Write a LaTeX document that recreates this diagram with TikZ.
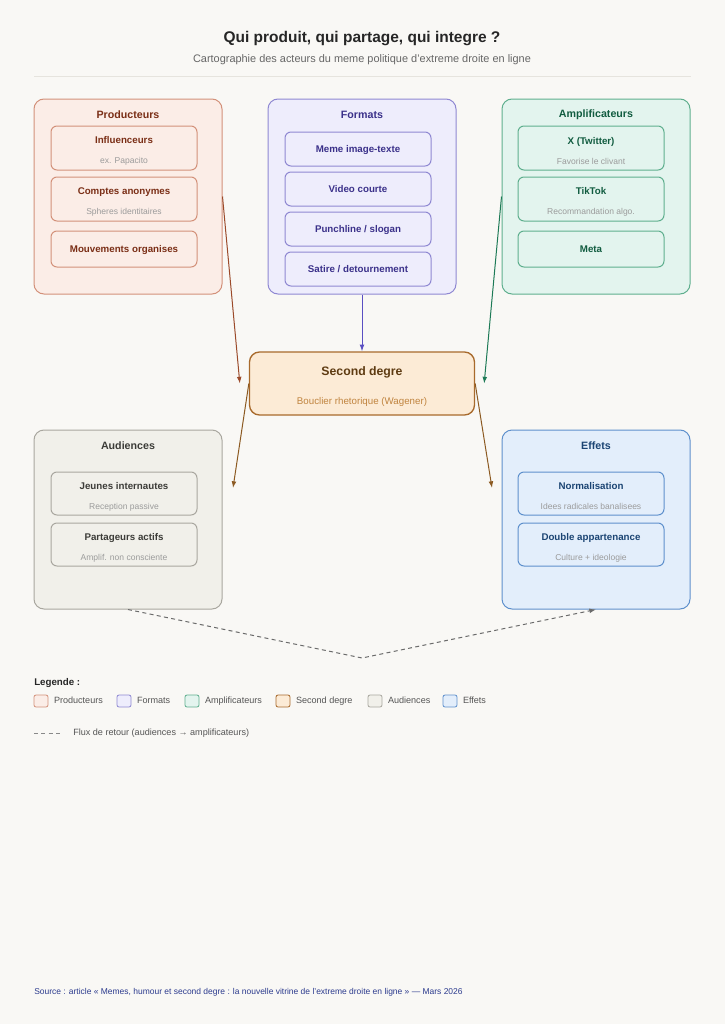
\documentclass[tikz,border=0pt]{standalone}
\usepackage{fontspec}
\setmainfont{Liberation Sans}
\usetikzlibrary{positioning, calc, arrows.meta}
\definecolor{bg}{HTML}{F9F8F5}
\definecolor{prodfill}{HTML}{FBEDE7}
\definecolor{proddraw}{HTML}{D3917A}
\definecolor{prodtext}{HTML}{7A2E16}
\definecolor{fmtfill}{HTML}{EEEDFC}
\definecolor{fmtdraw}{HTML}{8F88D2}
\definecolor{fmttext}{HTML}{3B318A}
\definecolor{amplfill}{HTML}{E3F4EE}
\definecolor{ampldraw}{HTML}{5FAF8E}
\definecolor{ampltext}{HTML}{115C40}
\definecolor{secfill}{HTML}{FCEBD6}
\definecolor{secdraw}{HTML}{A86A2C}
\definecolor{sectext}{HTML}{5E3B12}
\definecolor{secsub}{HTML}{C0843F}
\definecolor{audfill}{HTML}{F1F0EA}
\definecolor{auddraw}{HTML}{A9A79F}
\definecolor{audtext}{HTML}{3C3C38}
\definecolor{efffill}{HTML}{E3EEFB}
\definecolor{effdraw}{HTML}{5E90CC}
\definecolor{efftext}{HTML}{1B4473}
\definecolor{subgray}{HTML}{9B9B9B}
\definecolor{legray}{HTML}{555555}
\definecolor{rulegray}{HTML}{E6E4DE}
\definecolor{flux}{HTML}{6B6B6B}
\definecolor{prodarrow}{HTML}{9B4A2A}
\definecolor{fmtarrow}{HTML}{5A4FC2}
\definecolor{amplarrow}{HTML}{1D7A56}
\definecolor{secarrow}{HTML}{8C5A22}
\definecolor{sourceblue}{HTML}{2C3B8E}
\newcommand{\itemtwo}[2]{\rule{0pt}{9.8pt}#1\\[6.2pt]{\fontsize{6.4}{8}\selectfont\mdseries\color{subgray}#2}}
\newcommand{\itemone}[1]{\rule[-1.5pt]{0pt}{8pt}#1}

\begin{document}
\begin{tikzpicture}[x=0.75pt, y=-0.75pt,
    group/.style={draw, rectangle, rounded corners=7.5pt, minimum width=141pt, line width=0.75pt},
    item/.style={draw, rectangle, rounded corners=4.5pt, minimum width=109.5pt, line width=0.75pt,
      align=center, inner sep=0pt, font=\fontsize{7.3}{8.8}\selectfont\bfseries},
    head/.style={inner sep=0pt, font=\fontsize{8}{10}\selectfont\bfseries},
    flow/.style={-{Latex[length=5pt, width=3.6pt]}, line width=0.75pt},
    swatch/.style={draw, rectangle, rounded corners=1.5pt, minimum width=10.5pt, minimum height=9pt,
      inner sep=0pt, line width=0.6pt},
    legtext/.style={inner sep=0pt, text height=4.9pt, text depth=1.4pt, text=legray,
      font=\fontsize{6.8}{8}\selectfont}]
      \useasboundingbox (0,0) rectangle (725,1024);
      \fill[bg] (0,0) rectangle (725,1024);

      % titre
      \node[font=\fontsize{11.6}{14}\selectfont\bfseries, text=black!85]
        (title) at (362,39) {Qui produit, qui partage, qui integre ?};
      \node[font=\fontsize{8.2}{10}\selectfont, text=black!60]
        (subtitle) at (362,60) {Cartographie des acteurs du meme politique d'extreme droite en ligne};
      \draw[rulegray, line width=0.75pt] (34,77) -- (691,77);

      % producteurs
      \node[group, draw=proddraw, fill=prodfill, minimum height=146.25pt]
        (prod) at (128,196.5) {};
      \node[head, text=prodtext] (prodhead) at ($(prod.north)+(0,16)$) {Producteurs};
      \node[item, draw=proddraw, fill=prodfill, text=prodtext, minimum height=33pt]
        (infl) at (124,148) {\itemtwo{Influenceurs}{ex. Papacito}};
      \node[item, draw=proddraw, fill=prodfill, text=prodtext, minimum height=33pt, below=4.5pt of infl]
        (anon) {\itemtwo{Comptes anonymes}{Spheres identitaires}};
      \node[item, draw=proddraw, fill=prodfill, text=prodtext, minimum height=27pt, below=6.75pt of anon]
        (mouv) {\itemone{Mouvements organises}};

      % formats
      \node[group, draw=fmtdraw, fill=fmtfill, minimum height=146.25pt]
        (fmt) at (362,196.5) {};
      \node[head, text=fmttext] (fmthead) at ($(fmt.north)+(0,16)$) {Formats};
      \node[item, draw=fmtdraw, fill=fmtfill, text=fmttext, minimum height=25.5pt]
        (img) at (358,149) {\itemone{Meme image-texte}};
      \node[item, draw=fmtdraw, fill=fmtfill, text=fmttext, minimum height=25.5pt, below=3.75pt of img]
        (video) {\itemone{Video courte}};
      \node[item, draw=fmtdraw, fill=fmtfill, text=fmttext, minimum height=25.5pt, below=3.75pt of video]
        (punch) {\itemone{Punchline / slogan}};
      \node[item, draw=fmtdraw, fill=fmtfill, text=fmttext, minimum height=25.5pt, below=3.75pt of punch]
        (satire) {\itemone{Satire / detournement}};

      % amplificateurs
      \node[group, draw=ampldraw, fill=amplfill, minimum height=146.25pt]
        (ampl) at (596,196.5) {};
      \node[head, text=ampltext] (amplhead) at ($(ampl.north)+(0,16)$) {Amplificateurs};
      \node[item, draw=ampldraw, fill=amplfill, text=ampltext, minimum height=33pt]
        (twitter) at (591,148) {\itemtwo{X (Twitter)}{Favorise le clivant}};
      \node[item, draw=ampldraw, fill=amplfill, text=ampltext, minimum height=33pt, below=4.5pt of twitter]
        (tiktok) {\itemtwo{TikTok}{Recommandation algo.}};
      \node[item, draw=ampldraw, fill=amplfill, text=ampltext, minimum height=27pt, below=6.75pt of tiktok]
        (meta) {\itemone{Meta}};

      % second degre
      \node[draw=secdraw, fill=secfill, rounded corners=7.5pt, line width=1pt,
        minimum width=168.75pt, minimum height=47.25pt, align=center, text=sectext,
        font=\fontsize{9.2}{11}\selectfont\bfseries]
        (sec) at (362,383.5) {\rule{0pt}{11.2pt}Second degre\\[11pt]{\fontsize{7.3}{9}\selectfont\mdseries\color{secsub}Bouclier rhetorique (Wagener)}};

      % audiences
      \node[group, draw=auddraw, fill=audfill, minimum height=134.25pt]
        (aud) at (128,519.5) {};
      \node[head, text=audtext] (audhead) at ($(aud.north)+(0,16)$) {Audiences};
      \node[item, draw=auddraw, fill=audfill, text=audtext, minimum height=32.25pt]
        (jeunes) at (124,493.5) {\itemtwo{Jeunes internautes}{Reception passive}};
      \node[item, draw=auddraw, fill=audfill, text=audtext, minimum height=32.25pt, below=5.25pt of jeunes]
        (partage) {\itemtwo{Partageurs actifs}{Amplif. non consciente}};

      % effets
      \node[group, draw=effdraw, fill=efffill, minimum height=134.25pt]
        (eff) at (596,519.5) {};
      \node[head, text=efftext] (effhead) at ($(eff.north)+(0,16)$) {Effets};
      \node[item, draw=effdraw, fill=efffill, text=efftext, minimum height=32.25pt]
        (norm) at (591,493.5) {\itemtwo{Normalisation}{Idees radicales banalisees}};
      \node[item, draw=effdraw, fill=efffill, text=efftext, minimum height=32.25pt, below=5.25pt of norm]
        (double) {\itemtwo{Double appartenance}{Culture + ideologie}};

      % fleches
      \coordinate (audin) at (233,488);
      \coordinate (effin) at (492,488);
      \coordinate (retour) at (362,658);
      \draw[flow, prodarrow] (prod.east) -- ([xshift=-6.75pt]sec.west);
      \draw[flow, fmtarrow] (fmt.south) -- (sec.north);
      \draw[flow, amplarrow] (ampl.west) -- ([xshift=6.75pt]sec.east);
      \draw[flow, secarrow] (sec.west) -- (audin);
      \draw[flow, secarrow] (sec.east) -- (effin);
      \draw[flow, flux, dash pattern=on 3pt off 2.5pt] (aud.south) -- (retour) -- (eff.south);

      % legende
      \node[anchor=west, inner sep=0pt, text=black!85, font=\fontsize{7.3}{9}\selectfont\bfseries]
        (legtitle) at (34,682.5) {Legende :};
      \node[swatch, draw=proddraw, fill=prodfill] (swprod) at (41,701) {};
      \node[legtext, right=4pt of swprod] {Producteurs};
      \node[swatch, draw=fmtdraw, fill=fmtfill] (swfmt) at (124,701) {};
      \node[legtext, right=4pt of swfmt] {Formats};
      \node[swatch, draw=ampldraw, fill=amplfill] (swampl) at (192,701) {};
      \node[legtext, right=4pt of swampl] {Amplificateurs};
      \node[swatch, draw=secdraw, fill=secfill] (swsec) at (283,701) {};
      \node[legtext, right=4pt of swsec] {Second degre};
      \node[swatch, draw=auddraw, fill=audfill] (swaud) at (375,701) {};
      \node[legtext, right=4pt of swaud] {Audiences};
      \node[swatch, draw=effdraw, fill=efffill] (sweff) at (450,701) {};
      \node[legtext, right=4pt of sweff] {Effets};
      \coordinate (flux1) at (34,733);
      \coordinate (flux2) at (63,733);
      \draw[flux!80, line width=0.75pt, dash pattern=on 3pt off 2.5pt] (flux1) -- (flux2);
      \node[legtext, anchor=west] (fluxtext) at (73,733) {Flux de retour (audiences → amplificateurs)};

      % source
      \node[anchor=west, inner sep=0pt, text=sourceblue, font=\fontsize{6.35}{8}\selectfont]
        (src) at (34,992) {Source : article « Memes, humour et second degre : la nouvelle vitrine de l'extreme droite en ligne » — Mars 2026};
    \end{tikzpicture}
\end{document}
